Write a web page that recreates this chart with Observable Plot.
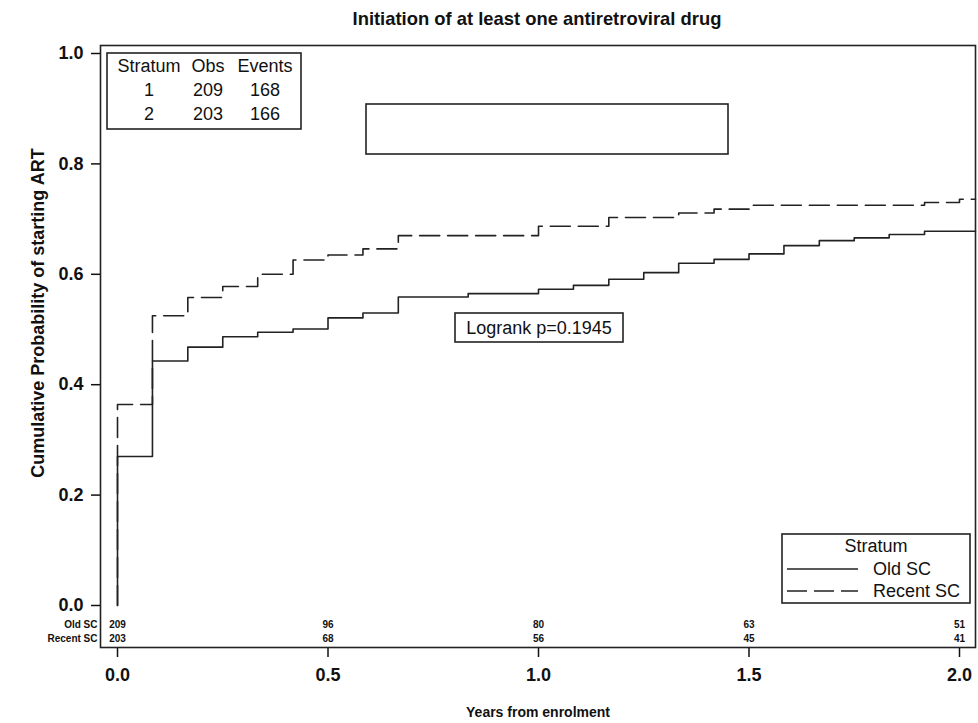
<!DOCTYPE html>
<html>
<head>
<meta charset="utf-8">
<script src="https://cdn.jsdelivr.net/npm/d3@7"></script>
<script src="https://cdn.jsdelivr.net/npm/@observablehq/plot@0.6"></script>
<style>
  body { margin: 0; background: #fff; }
  #chart svg { display: block; }
  #chart g[aria-label="x-axis tick label"] text,
  #chart g[aria-label="y-axis tick label"] text { font-size: 18px; font-weight: bold; }
</style>
</head>
<body>
<div id="chart"></div>
<script>
// ---- data ----
const oldTime   = [0, 0, 0.083, 0.167, 0.25, 0.333, 0.417, 0.5, 0.583, 0.667, 0.833, 1.0, 1.083, 1.167, 1.25, 1.333, 1.417, 1.5, 1.583, 1.667, 1.75, 1.833, 1.917, 2.038];
const oldProb   = [0, 0.270, 0.443, 0.468, 0.487, 0.495, 0.501, 0.521, 0.530, 0.559, 0.565, 0.573, 0.580, 0.591, 0.603, 0.620, 0.627, 0.637, 0.652, 0.661, 0.666, 0.672, 0.678, 0.678];
const recentTime = [0, 0, 0.083, 0.167, 0.25, 0.333, 0.417, 0.5, 0.583, 0.667, 1.0, 1.167, 1.333, 1.417, 1.5, 1.917, 2.0, 2.038];
const recentProb = [0, 0.364, 0.525, 0.558, 0.578, 0.600, 0.626, 0.635, 0.646, 0.670, 0.687, 0.703, 0.711, 0.718, 0.725, 0.730, 0.736, 0.736];

const riskTimes  = [0, 0.5, 1.0, 1.5, 2.0];
const oldRisk    = [209, 96, 80, 63, 51];
const recentRisk = [203, 68, 56, 45, 41];

const xTicks = [0, 0.5, 1.0, 1.5, 2.0];
const yTicks = [0, 0.2, 0.4, 0.6, 0.8, 1.0];

const strata = ["1", "2"];
const obs    = [209, 203];
const events = [168, 166];
const seriesNames = ["Old SC", "Recent SC"];
const pValueText = "Logrank p=0.1945";

// ---- build tables ----
const oldData = oldTime.map((t, i) => ({t, p: oldProb[i]}));
const recentData = recentTime.map((t, i) => ({t, p: recentProb[i]}));
const oldRiskData = riskTimes.map((t, i) => ({t, n: oldRisk[i]}));
const recentRiskData = riskTimes.map((t, i) => ({t, n: recentRisk[i]}));

const ink = "#111";
const font = "'Liberation Sans', Arial, sans-serif";

const chart = Plot.plot({
  width: 978,
  height: 723,
  marginTop: 45,
  marginRight: 3,
  marginBottom: 76,
  marginLeft: 100,
  style: { fontFamily: font, color: ink, background: "#fff" },
  x: { domain: [-0.0404, 2.038], ticks: xTicks, tickFormat: ".1f", label: null },
  y: { domain: [-0.0761, 1.0145], ticks: yTicks, tickFormat: ".1f", label: null },
  marks: [
    Plot.axisX(xTicks, { tickSize: 10, tickPadding: 11, tickFormat: ".1f", stroke: ink, strokeWidth: 1.5, label: null }),
    Plot.axisY(yTicks, { tickSize: 9, tickPadding: 8, tickFormat: ".1f", stroke: ink, strokeWidth: 1.5, label: null }),
    Plot.line(oldData, { x: "t", y: "p", curve: "step-after", stroke: "#222", strokeWidth: 1.6 }),
    Plot.line(recentData, { x: "t", y: "p", curve: "step-after", stroke: "#222", strokeWidth: 1.6, strokeDasharray: "20,8" }),
    Plot.text(oldRiskData, { x: "t", frameAnchor: "bottom", dy: -20, text: "n", fontSize: 10, fontWeight: "bold", fill: ink }),
    Plot.text(recentRiskData, { x: "t", frameAnchor: "bottom", dy: -6, text: "n", fontSize: 10, fontWeight: "bold", fill: ink }),
    Plot.text([seriesNames[0]], { frameAnchor: "bottom-left", dx: -3, dy: -20, textAnchor: "end", fontSize: 10, fontWeight: "bold", fill: ink }),
    Plot.text([seriesNames[1]], { frameAnchor: "bottom-left", dx: -3, dy: -6, textAnchor: "end", fontSize: 10, fontWeight: "bold", fill: ink }),
    Plot.frame({ stroke: "#222", strokeWidth: 1.6 })
  ]
});

document.getElementById("chart").appendChild(chart);

// ---- annotations (title, axis labels, boxes, legend) ----
const svg = d3.select(chart);
const g = svg.append("g").attr("font-family", font).attr("fill", ink);

g.append("text").attr("x", 537).attr("y", 18).attr("text-anchor", "middle").attr("dominant-baseline", "central")
  .attr("font-size", 18.4).attr("font-weight", "bold").text("Initiation of at least one antiretroviral drug");
g.append("text").attr("transform", "translate(38,313) rotate(-90)").attr("text-anchor", "middle").attr("dominant-baseline", "central")
  .attr("font-size", 18).attr("font-weight", "bold").text("Cumulative Probability of starting ART");
g.append("text").attr("x", 538).attr("y", 712).attr("text-anchor", "middle").attr("dominant-baseline", "central")
  .attr("font-size", 14).attr("font-weight", "bold").text("Years from enrolment");

// Stratum table box
g.append("rect").attr("x", 107).attr("y", 53).attr("width", 194).attr("height", 76)
  .attr("fill", "#fff").attr("stroke", "#222").attr("stroke-width", 1.6);
const cols = [149, 208, 265];
["Stratum", "Obs", "Events"].forEach((h, i) => {
  g.append("text").attr("x", cols[i]).attr("y", 66).attr("text-anchor", "middle").attr("dominant-baseline", "central")
    .attr("font-size", 18).text(h);
});
strata.forEach((s, r) => {
  const y = 90 + r * 24;
  [s, obs[r], events[r]].forEach((v, i) => {
    g.append("text").attr("x", cols[i]).attr("y", y).attr("text-anchor", "middle").attr("dominant-baseline", "central")
      .attr("font-size", 18).text(v);
  });
});

// empty box
g.append("rect").attr("x", 366).attr("y", 104).attr("width", 362).attr("height", 50)
  .attr("fill", "none").attr("stroke", "#222").attr("stroke-width", 1.6);

// logrank box
g.append("rect").attr("x", 455).attr("y", 313).attr("width", 168).attr("height", 29)
  .attr("fill", "#fff").attr("stroke", "#222").attr("stroke-width", 1.6);
g.append("text").attr("x", 539).attr("y", 328).attr("text-anchor", "middle").attr("dominant-baseline", "central")
  .attr("font-size", 18).text(pValueText);

// legend
g.append("rect").attr("x", 782).attr("y", 534).attr("width", 188).attr("height", 69)
  .attr("fill", "#fff").attr("stroke", "#222").attr("stroke-width", 1.6);
g.append("text").attr("x", 876).attr("y", 546).attr("text-anchor", "middle").attr("dominant-baseline", "central")
  .attr("font-size", 18).text("Stratum");
[569, 591].forEach((y, i) => {
  g.append("line").attr("x1", 787).attr("x2", 858).attr("y1", y).attr("y2", y)
    .attr("stroke", "#222").attr("stroke-width", 1.6).attr("stroke-dasharray", i === 1 ? "20,7" : null);
  g.append("text").attr("x", 873).attr("y", y).attr("text-anchor", "start").attr("dominant-baseline", "central")
    .attr("font-size", 18).text(seriesNames[i]);
});
</script>
</body>
</html>
